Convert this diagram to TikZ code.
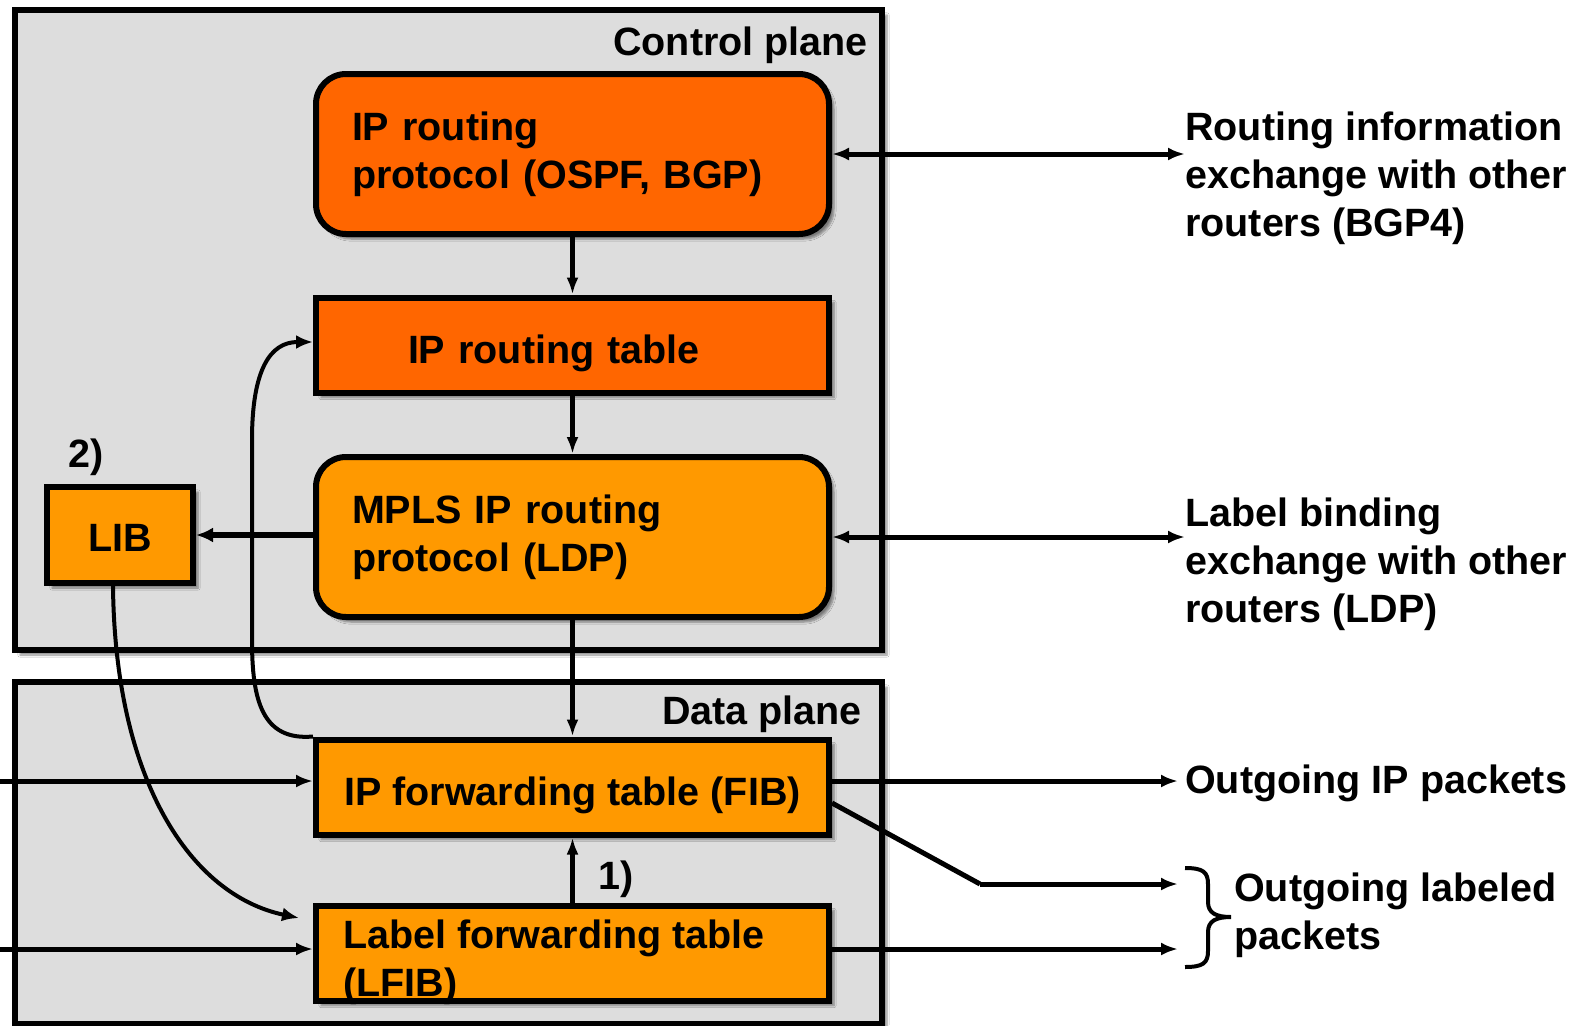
\documentclass[tikz,border=0pt]{standalone}
\usepackage{fontspec}
\setmainfont{Liberation Sans}
\usetikzlibrary{arrows.meta,shadows.blur,calc}
\definecolor{deeporange}{HTML}{FF6600}
\definecolor{lightorange}{HTML}{FF9900}
\definecolor{planegray}{HTML}{DDDDDD}

\tikzset{
  softshadow/.style={blur shadow={shadow xshift=5pt, shadow yshift=-5pt, shadow opacity=45, shadow blur steps=6}},
  plane/.style={draw=black, line width=6pt, fill=planegray, softshadow},
  procbox/.style={draw=black, line width=6pt, rounded corners=30pt, minimum width=513pt,
    minimum height=160pt, text width=441pt, inner xsep=36pt, align=left, softshadow},
  tablebox/.style={draw=black, line width=6pt, minimum width=513pt, minimum height=95pt, softshadow},
  lowtext/.style={text height=45pt, text depth=8pt},
  pkttip/.tip={Latex[length=17pt,width=13pt]},
  pktline/.style={line width=5pt, -pkttip},
  duplexline/.style={line width=5pt, pkttip-pkttip},
  chainline/.style={line width=4.5pt, -{Latex[length=17pt,width=12pt]}},
  bendline/.style={line width=4pt, -{Latex[length=17pt,width=14pt]}},
  sidetext/.style={align=left, anchor=west}
}

\begin{document}
\begin{tikzpicture}[x=1pt,y=-1pt,
  every node/.style={font=\fontsize{39.5}{48}\selectfont\bfseries, inner sep=0pt}]
% page area
\fill[white] (0,0) rectangle (1578,1025);
\useasboundingbox (0,0) rectangle (1578,1025);

% the two planes
\node[plane, minimum width=867pt, minimum height=640pt] (ctrl) at (448.5,330) {};
\node[plane, minimum width=867pt, minimum height=342pt] (data) at (448.5,853) {};
\node[anchor=east] (ctrllabel) at (868,45) {Control plane};
\node[anchor=east] (datalabel) at (862,714) {Data plane};

% control plane blocks
\node[procbox, fill=deeporange] (iprp) at (572.5,154) {IP routing\\protocol (OSPF, BGP)};
\node[tablebox, lowtext, fill=deeporange, text width=329pt, inner xsep=92pt, align=left] (iprt) at (572.5,345) {IP routing table};
\node[procbox, fill=lightorange] (mpls) at (572.5,537) {MPLS IP routing\\protocol (LDP)};
\node[draw=black, line width=6pt, fill=lightorange, minimum width=146pt, minimum height=96pt,
  text height=33pt, text depth=0pt, softshadow] (lib) at (120,535) {LIB};
\node (two) at (86,457) {2)};

% data plane blocks
\node[tablebox, lowtext, fill=lightorange] (fib) at (572.5,787) {IP forwarding table (FIB)};
\node[tablebox, fill=lightorange] (lfib) at (572.5,953) {};
\node[sidetext] (lfibtext) at (343,962) {Label forwarding table\\(LFIB)};
\node (one) at (616,879) {1)};

% texts on the right
\node[sidetext] (rtinfo) at (1185,178) {Routing information\\exchange with other\\routers (BGP4)};
\node[sidetext] (lblinfo) at (1185,564) {Label binding\\exchange with other\\routers (LDP)};
\node[sidetext] (outip) at (1185,783) {Outgoing IP packets};
\node[sidetext] (outlbl) at (1234,915) {Outgoing labeled\\packets};

% free ends of the connectors
\coordinate (inip) at (0,781);
\coordinate (inlbl) at (0,949);
\coordinate (knee) at (980,884);
\coordinate (endip) at (1178,781);
\coordinate (endlbl1) at (1178,884);
\coordinate (endlbl2) at (1178,949);

% vertical chain
\draw[chainline] (iprp.south) -- (iprt.north);
\draw[chainline] (iprt.south) -- (mpls.north);
\draw[chainline] (mpls.south) -- (fib.north);
\draw[chainline] (lfib.north) -- (fib.south);

% LDP to LIB
\draw[line width=6pt, -{Latex[length=17pt,width=15pt]}] (lib.east -| mpls.west) -- (lib.east);

% exchanges with other routers
\draw[duplexline] (iprp.east) -- (iprp.east -| rtinfo.west) coordinate (rtend);
\draw[duplexline] (mpls.east) -- (mpls.east -| lblinfo.west) coordinate (lblend);

% curved connectors
\draw[bendline] (fib.north west) .. controls (262,741) and (252,700) .. (252,640)
  -- (252,440) .. controls (252,370) and (270,342) .. ($(iprt.west)+(0,-3)$);
\draw[bendline] (lib.south -| 113,0) .. controls (115,780) and (190,895) .. ($(lfib.west)+(-14,-35)$);

% packet flows
\draw[pktline] (inip) -- (inip -| fib.west);
\draw[pktline] (inlbl) -- (inlbl -| lfib.west);
\draw[pktline] (endip -| fib.east) -- (endip);
\draw[line width=5pt] ($(fib.east)+(0,16)$) -- (knee);
\draw[pktline] (knee) -- (endlbl1);
\draw[pktline] (endlbl2 -| lfib.east) -- (endlbl2);

% brace grouping the labeled outputs
\draw[line width=4pt] (1185,868) .. controls (1203,868) and (1208,872) .. (1208,884)
  -- (1208,902) .. controls (1208,913) and (1216,917) .. (1231,917)
  .. controls (1216,917) and (1208,921) .. (1208,932)
  -- (1208,951) .. controls (1208,963) and (1203,967) .. (1185,967);
\end{tikzpicture}
\end{document}
